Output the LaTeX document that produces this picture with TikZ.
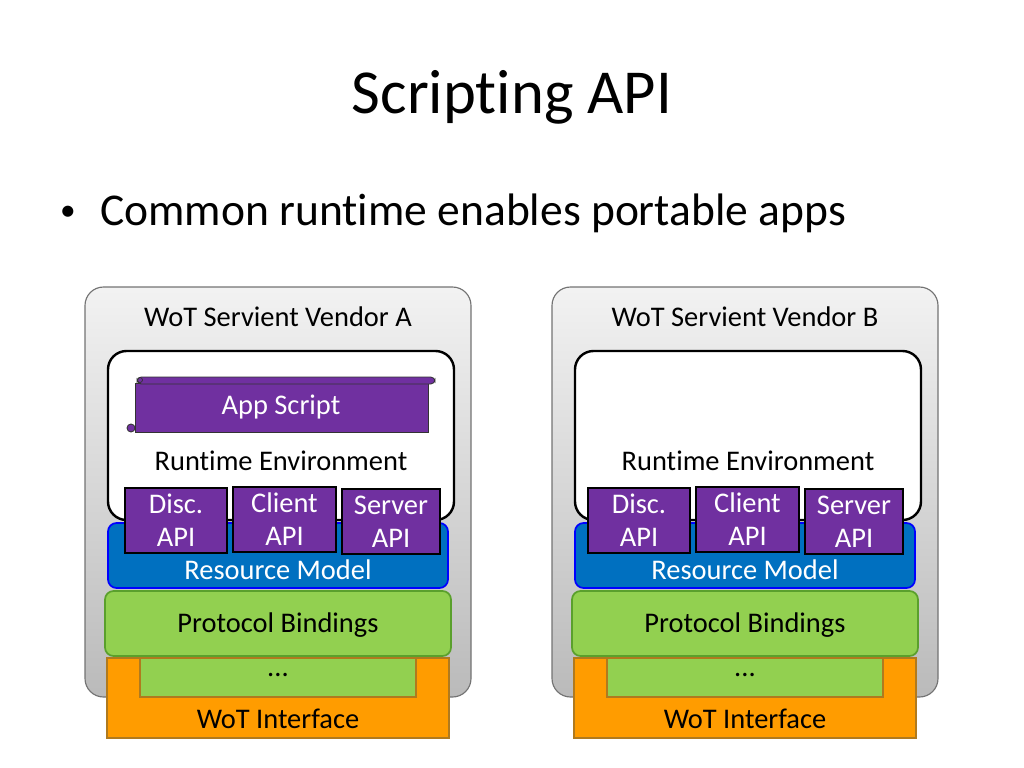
\documentclass[tikz,border=0pt]{standalone}
\usepackage{fontspec}
\setmainfont[Ligatures=NoCommon]{Carlito}
\definecolor{apipurple}{HTML}{7030A0}
\definecolor{rmblue}{HTML}{0070C0}
\definecolor{pbgreen}{HTML}{92D050}
\definecolor{pbedge}{HTML}{5AA02C}
\definecolor{wotorange}{HTML}{FF9C00}
\definecolor{wotedge}{HTML}{B07A1E}
\tikzset{
    layer/.style={rounded corners=6pt, minimum height=65*0.703pt, inner sep=0pt},
    apibox/.style={draw=black, line width=1.4pt, fill=apipurple, text=white, minimum height=65*0.703pt, inner sep=0pt, align=center, font=\fontsize{20}{23.2}\selectfont},
    txt/.style={font=\fontsize{20}{24}\selectfont, inner sep=0pt},
}
\begin{document}
\begin{tikzpicture}[x=0.703pt, y=-0.703pt]
    \useasboundingbox (0, 0) rectangle (1024, 768);
    \node[font=\fontsize{44}{52}\selectfont] (title) at (512, 97) {Scripting API};
    \node[anchor=west, font=\fontsize{32}{38}\selectfont, inner sep=0pt] (bullet) at (100, 213) {Common runtime enables portable apps};
    \node[font=\fontsize{22}{26}\selectfont, inner sep=0pt] (dot) at (68, 213) {\textbullet};
    \foreach \v/\dx/\ax in {A/0/0, B/467/-4} {
        \begin{scope}[xshift=\dx*0.703pt]
        % servient frame
        \node[draw=black!55, line width=0.8pt, rounded corners=13pt, top color=black!5, bottom color=black!27, minimum width=386*0.703pt, minimum height=410*0.703pt] (servient\v) at (278, 492) {};
        \node[txt] (vendor\v) at (278, 317) {WoT Servient Vendor \v};
        % runtime
        \node[draw=black, fill=white, line width=1.7pt, rounded corners=13pt, minimum width=346*0.703pt, minimum height=169*0.703pt] (runtime\v) at (281, 435.5) {};
        \node[txt] (rtlabel\v) at (281, 461) {Runtime Environment};
        % resource model
        \node[layer, draw=blue, line width=1.2pt, fill=rmblue, minimum width=340*0.703pt] (resource\v) at (278, 555.5) {};
        \node[txt, text=white] (rmlabel\v) at (278, 570) {Resource Model};
        \node[apibox, minimum width=102*0.703pt] (disc\v) at (176+\ax, 520.5) {Disc.\\API};
        \node[apibox, minimum width=103*0.703pt] (client\v) at (284.5+\ax, 519.5) {Client\\API};
        \node[apibox, minimum width=98*0.703pt] (server\v) at (391+\ax, 521.5) {Server\\API};
        % bindings
        \node[layer, draw=pbedge, line width=1.2pt, fill=pbgreen, minimum width=346*0.703pt] (bindings\v) at (278, 623.5) {};
        \node[txt] (pblabel\v) at (278, 625) {Protocol Bindings};
        % interface
        \node[draw=wotedge, line width=1.2pt, fill=wotorange, minimum width=342*0.703pt, minimum height=80*0.703pt, inner sep=0pt] (iface\v) at (278, 698) {};
        \node[draw=wotedge, line width=1.2pt, fill=pbgreen, minimum width=276*0.703pt, minimum height=39*0.703pt, inner sep=0pt] (more\v) at (278, 677.5) {};
        \node[txt] (dots\v) at (278, 675) {...};
        \node[txt] (iflabel\v) at (278, 719) {WoT Interface};
        \end{scope}
    }
    % app script scroll
    \filldraw[draw=black!80, fill=apipurple, line width=0.6pt] (135, 383) rectangle (428, 432);
    \filldraw[draw=black!80, fill=apipurple, line width=0.6pt, rounded corners=3pt] (137, 377) rectangle (435, 384);
    \filldraw[draw=black!80, fill=apipurple, line width=0.6pt] (131, 428) circle[radius=4];
    \draw[black!80, line width=0.5pt] (140, 380) circle[radius=2.5];
    \node[txt, text=white] (script) at (281, 407) {App Script};
\end{tikzpicture}
\end{document}
